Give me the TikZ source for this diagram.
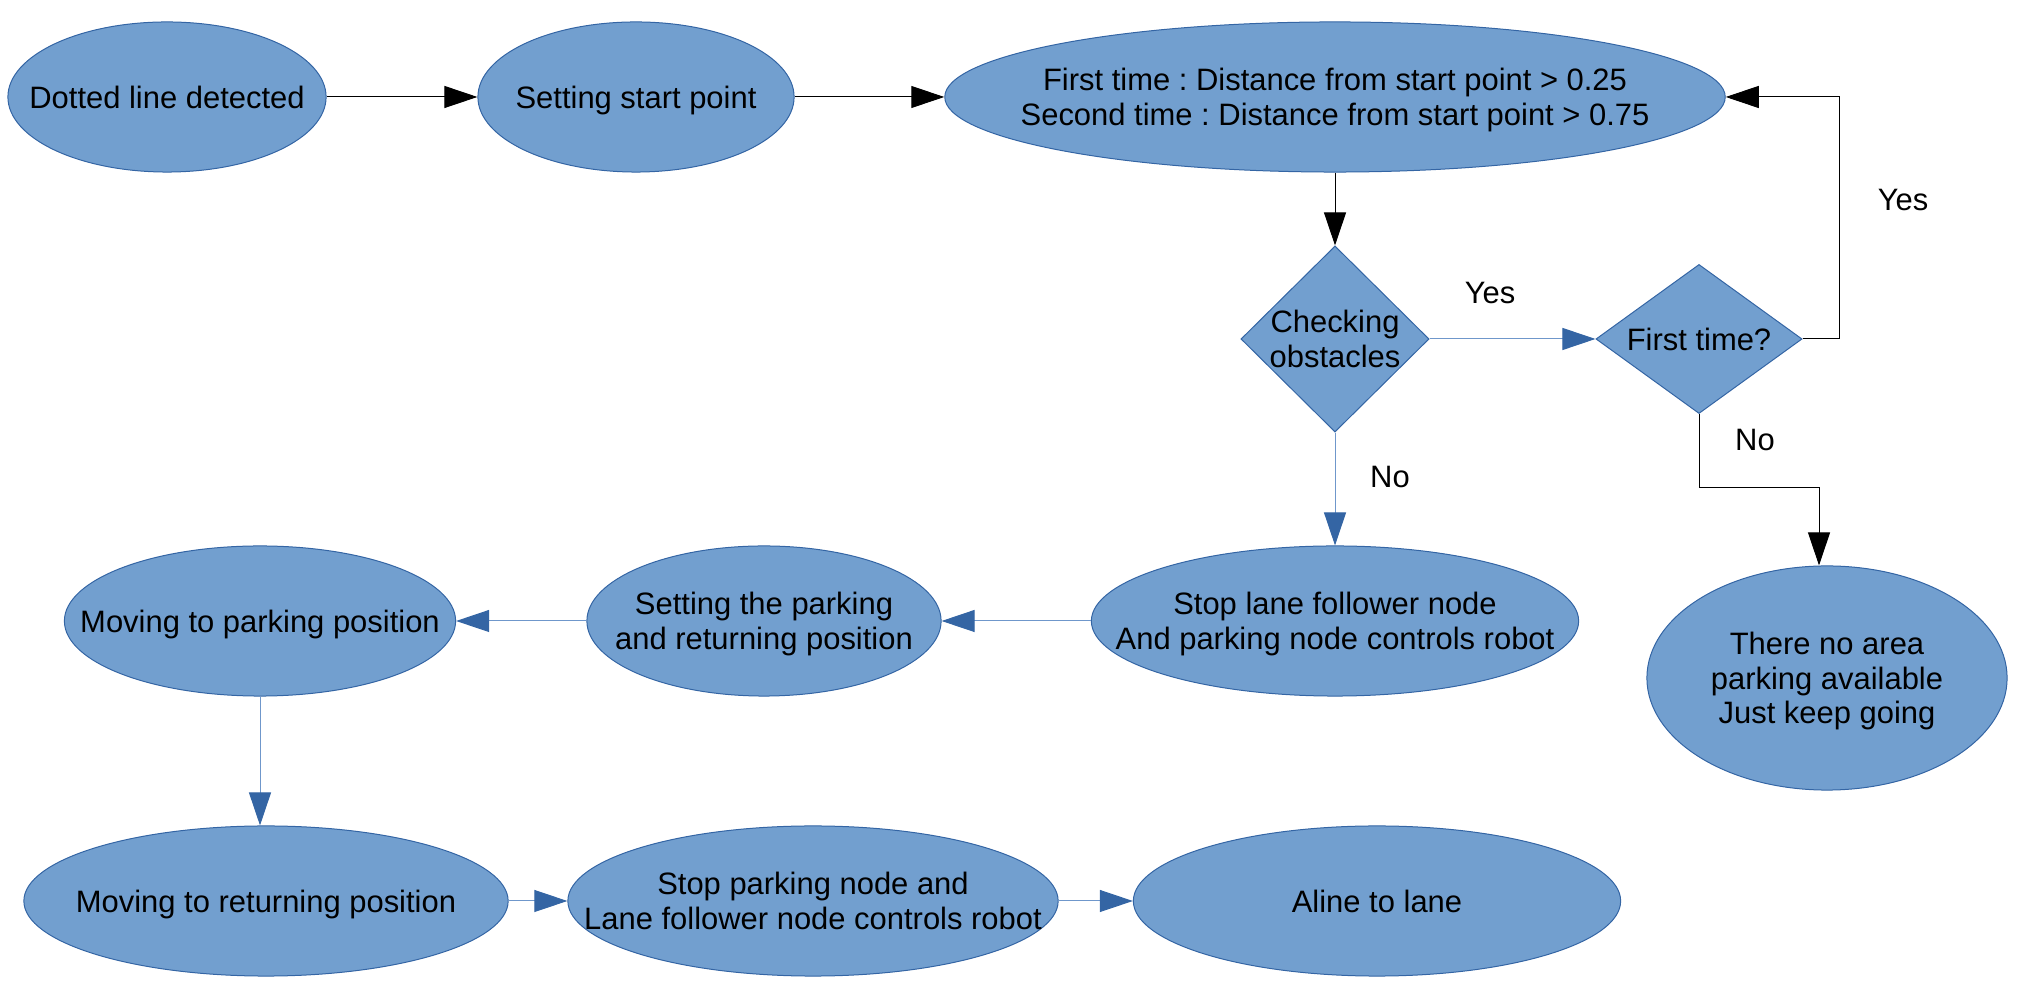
\documentclass[tikz,border=0pt]{standalone}
\usepackage{fontspec}
\setmainfont{Liberation Sans}
\frenchspacing
\usetikzlibrary{shapes.geometric,arrows.meta}
\definecolor{boxfill}{HTML}{729FCF}
\definecolor{boxline}{HTML}{3465A4}
\definecolor{linkblue}{HTML}{6F97CB}
\newcommand{\boxtext}[1]{\makebox[0pt]{\raisebox{-1.2pt}[\height][\depth]{\begin{tabular}{@{}c@{}}#1\end{tabular}}}}
\tikzset{
  every node/.style={font=\fontsize{8.8}{9.7}\selectfont},
  oval/.style={ellipse, draw=boxline, fill=boxfill, line width=0.01cm, inner sep=0pt},
  choice/.style={diamond, draw=boxline, fill=boxfill, line width=0.01cm, inner sep=0pt},
  blackarrow/.style={-{Triangle[length=0.33cm,width=0.22cm]}, line width=0.01cm, black},
  bluearrow/.style={-{Triangle[length=0.33cm,width=0.22cm,color=boxline]}, line width=0.01cm, linkblue},
}

\begin{document}
\begin{tikzpicture}[x=0.01cm,y=-0.01cm]
  \useasboundingbox (0,0) rectangle (2021,1004);

  % top row
  \node[oval, minimum width=3.18cm, minimum height=1.5cm] (dot) at (167,97) {\boxtext{Dotted line detected}};
  \node[oval, minimum width=3.16cm, minimum height=1.5cm] (start) at (636,97) {\boxtext{Setting start point}};
  \node[oval, minimum width=7.8cm, minimum height=1.5cm] (dist) at (1335,97)
      {\boxtext{First time : Distance from start point > 0.25\\Second time : Distance from start point > 0.75}};

  % decisions
  \node[choice, minimum width=1.88cm, minimum height=1.86cm] (check) at (1335,339) {\boxtext{Checking\\obstacles}};
  \node[choice, minimum width=2.06cm, minimum height=1.49cm] (first) at (1699,339) {\boxtext{First time?}};
  \node[oval, minimum width=3.6cm, minimum height=2.24cm] (noarea) at (1827,678)
      {\boxtext{There no area\\parking available\\Just keep going}};

  % middle row
  \node[oval, minimum width=4.87cm, minimum height=1.5cm] (stop) at (1335,621)
      {\boxtext{Stop lane follower node\\And parking node controls robot}};
  \node[oval, minimum width=3.54cm, minimum height=1.5cm] (setpark) at (764,621)
      {\boxtext{Setting the parking\\and returning position}};
  \node[oval, minimum width=3.91cm, minimum height=1.5cm] (movepark) at (260,621)
      {\boxtext{Moving to parking position}};

  % bottom row
  \node[oval, minimum width=4.84cm, minimum height=1.5cm] (moveret) at (266,901)
      {\boxtext{Moving to returning position}};
  \node[oval, minimum width=4.9cm, minimum height=1.5cm] (stoppark) at (813,901)
      {\boxtext{Stop parking node and\\Lane follower node controls robot}};
  \node[oval, minimum width=4.87cm, minimum height=1.5cm] (aline) at (1377,901)
      {\boxtext{Aline to lane}};

  % labels
  \node (yesA) at (1490,293) {Yes};
  \node (yesB) at (1903,200) {Yes};
  \node (noA) at (1390,477) {No};
  \node (noB) at (1755,440) {No};

  \coordinate (loop) at (1839,97);
  \coordinate (bend) at (1819,488);

  \draw[blackarrow] (dot.east) -- (start.west);
  \draw[blackarrow] (start.east) -- (dist.west);
  \draw[blackarrow] (dist.south) -- (check.north);
  \draw[bluearrow] (check.east) -- (first.west);
  \draw[blackarrow] (first.east) -| (loop) -- (dist.east);
  \draw[blackarrow] (first.south) |- (bend) -- (bend |- noarea.north);
  \draw[bluearrow] (check.south) -- (stop.north);
  \draw[bluearrow] (stop.west) -- (setpark.east);
  \draw[bluearrow] (setpark.west) -- (movepark.east);
  \draw[bluearrow] (movepark.south) -- (movepark.south |- moveret.north);
  \draw[bluearrow] (moveret.east) -- (stoppark.west);
  \draw[bluearrow] (stoppark.east) -- (aline.west);
\end{tikzpicture}
\end{document}
